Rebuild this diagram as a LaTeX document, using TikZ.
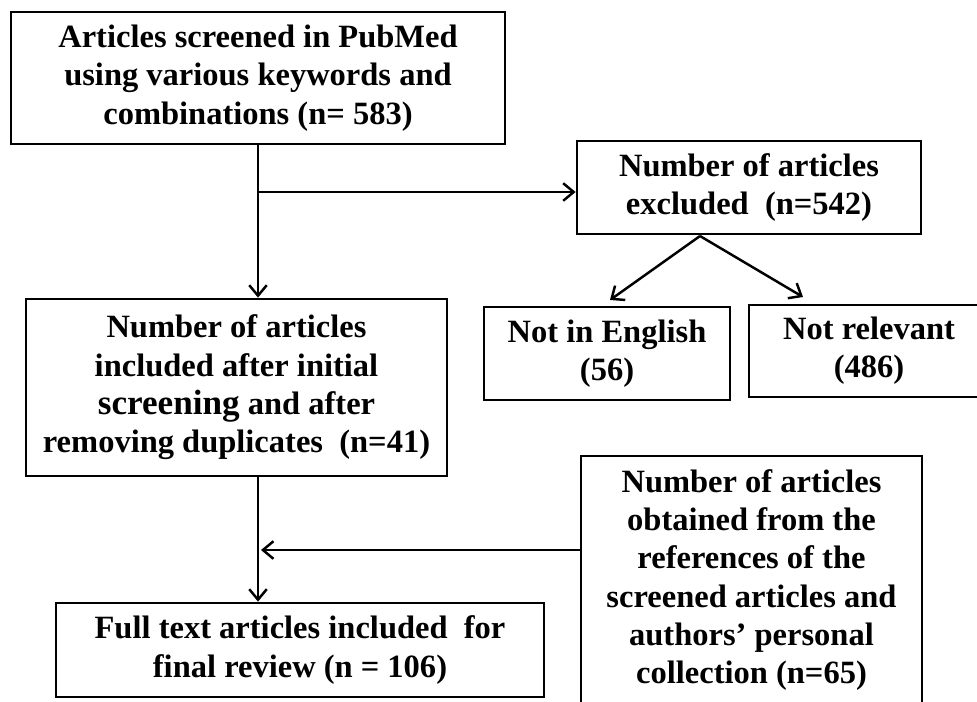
\documentclass[tikz,border=0pt]{standalone}
\usepackage{fontspec}
\setmainfont{Liberation Serif}
\usetikzlibrary{positioning,arrows.meta,calc}

\begin{document}
\begin{tikzpicture}[
  x=0.02cm, y=-0.02cm,
  stage/.style={rectangle, draw=black, line width=1.6pt, align=center, inner sep=0pt,
    font=\fontsize{18.5}{21.8}\selectfont\bfseries},
  flow/.style={->, line width=1.4pt},
  >={Straight Barb[length=6pt,width=10pt]}
]
  \useasboundingbox (0,0) rectangle (977,701);
  \clip (0,0) rectangle (977,701);
  \fill[white] (0,0) rectangle (977,701);

  % Main stages
  \node[stage, minimum width=9.88cm, minimum height=2.64cm] (screened) at (258,78)
    {Articles screened in PubMed\\using various keywords and\\combinations (n= 583)};
  \node[stage, minimum width=8.42cm, minimum height=3.54cm] (included) at (236.5,387.5)
    {Number of articles\\included after initial\\{\fontsize{20}{21.8}\selectfont screening} and after\\removing duplicates~ (n=41)};
  \node[stage, minimum width=9.76cm, minimum height=1.88cm] (full) at (300,650)
    {Full text articles included~ for\\final review (n = 106)};

  % Excluded and extra articles
  \node[stage, minimum width=6.88cm, minimum height=1.86cm] (excluded) at (749,187.5)
    {Number of articles\\excluded~ (n=542)};
  \node[stage, minimum width=4.92cm, minimum height=1.86cm] (english) at (607,353.5)
    {Not in English\\(56)};
  \node[stage, minimum width=4.8cm, minimum height=1.84cm] (relevant) at (869,351)
    {Not relevant\\(486)};
  \node[stage, minimum width=6.82cm, minimum height=4.96cm] (refs) at (751.5,580)
    {Number of articles\\obtained from the\\references of the\\screened articles and\\authors’ personal\\collection (n=65)};

  % Connectors
  \coordinate (split) at (258,192);
  \coordinate (fork) at (700,236);
  \coordinate (toeng) at (610,300);
  \coordinate (torel) at (803,297);
  \coordinate (merge) at (261,550);

  \draw[flow] (screened.south) -- (screened.south |- included.north);
  \draw[flow] (split) -- (split -| excluded.west);
  \draw[flow] (fork) -- (toeng);
  \draw[flow] (fork) -- (torel);
  \draw[flow] (screened.south |- included.south) -- (screened.south |- full.north);
  \draw[flow] (merge -| refs.west) -- (merge);

\end{tikzpicture}
\end{document}
